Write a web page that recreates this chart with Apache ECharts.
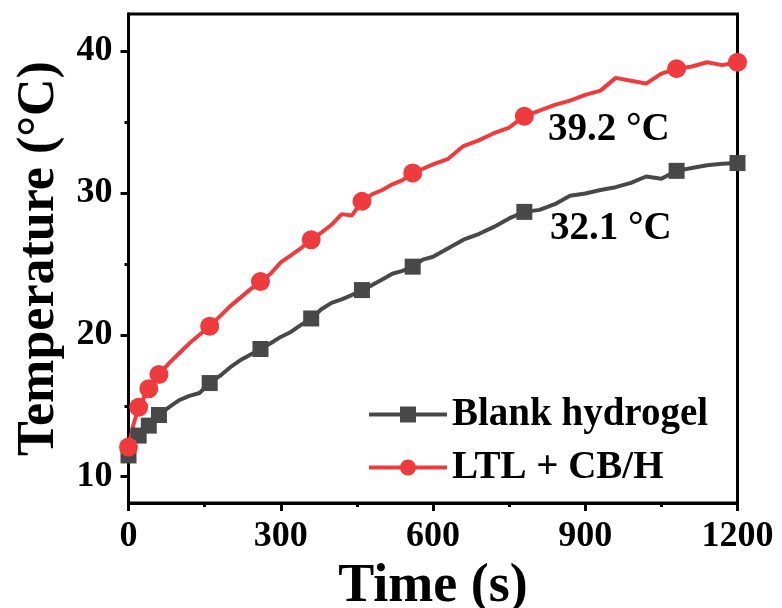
<!DOCTYPE html>
<html lang="en">

<head>
    <meta charset="UTF-8">
    <title>Temperature vs time</title>
    <script src="https://cdn.jsdelivr.net/npm/echarts@6.0.0/dist/echarts.min.js"></script>
    <style>
        body { margin: 0; background: #fff; }
    </style>
</head>

<body>
    <div id="main" style="width: 782px;height:608px;"></div>

    <script type="text/javascript">
        // time points (s)
        const times = [0, 10, 20, 40, 60, 80, 100, 120, 140, 160, 180, 200, 220, 240, 260, 280, 300, 320, 340, 360,
            380, 400, 420, 440, 460, 480, 500, 520, 540, 560, 580, 600, 630, 660, 690, 720, 750, 780, 810, 840,
            870, 900, 930, 960, 990, 1020, 1050, 1080, 1110, 1140, 1170, 1200];
        // Blank hydrogel (°C)
        const blank = [11.5, 12.3, 12.9, 13.6, 14.35, 14.9, 15.4, 15.7, 15.9, 16.6, 17.1, 17.7, 18.2, 18.6, 19.0, 19.4, 19.85, 20.2, 20.7, 21.15,
            21.8, 22.25, 22.5, 22.8, 23.15, 23.5, 23.9, 24.3, 24.5, 24.8, 25.3, 25.5, 26.1, 26.7, 27.1, 27.6, 28.2, 28.66, 28.8, 29.2,
            29.8, 29.95, 30.2, 30.4, 30.7, 31.15, 31.0, 31.55, 31.75, 31.95, 32.05, 32.1];
        // LTL + CB/H (°C)
        const ltl = [12.1, 13.7, 14.9, 16.2, 17.2, 18.0, 18.7, 19.4, 20.0, 20.6, 21.3, 22.0, 22.6, 23.2, 23.75, 24.3, 25.1, 25.6, 26.1, 26.7,
            27.2, 27.75, 28.5, 28.4, 29.4, 29.9, 30.2, 30.6, 30.9, 31.4, 31.7, 32.0, 32.4, 33.3, 33.7, 34.2, 34.6, 35.4, 35.8, 36.2,
            36.5, 36.9, 37.2, 38.1, 37.9, 37.7, 38.4, 38.75, 38.9, 39.2, 39.0, 39.2];
        // where the markers sit
        const markerTimes = [0, 20, 40, 60, 160, 260, 360, 460, 560, 780, 1080, 1200];
        const yTicks = [10, 20, 30, 40];
        const yMinorTicks = [15, 25, 35];

        const serif = '"Liberation Serif", "Times New Roman", serif';

        function buildData(ys) {
            return times.map((t, i) => {
                if (markerTimes.includes(t)) return { value: [t, ys[i]] };
                return { value: [t, ys[i]], symbol: 'none' };
            });
        }

        const myChart = echarts.init(document.getElementById('main'));

        var option = {
            animation: false,
            grid: {
                left: 128.5, right: 44.5, top: 14, bottom: 105,
                show: true, borderColor: '#000', borderWidth: 3,
                outerBoundsMode: 'none'
            },
            legend: {
                orient: 'vertical',
                left: 362, top: 390,
                itemWidth: 78, itemHeight: 20, itemGap: 14,
                lineStyle: { width: 4 },
                textStyle: { fontFamily: serif, fontWeight: 'bold', fontSize: 39, color: '#000' },
                data: ['Blank hydrogel', 'LTL + CB/H']
            },
            xAxis: {
                type: 'value',
                min: 0, max: 1200, interval: 300,
                name: 'Time (s)', nameLocation: 'middle', nameGap: 50,
                nameTextStyle: { fontFamily: serif, fontWeight: 'bold', fontSize: 54, color: '#000' },
                axisLine: { lineStyle: { color: '#000', width: 3 } },
                axisTick: { length: 8, lineStyle: { width: 3, color: '#000' } },
                minorTick: { show: true, splitNumber: 2, length: 4, lineStyle: { width: 3, color: '#000' } },
                splitLine: { show: false },
                axisLabel: {
                    fontFamily: serif, fontWeight: 'bold', fontSize: 36, color: '#000', margin: 16,
                    formatter: (v) => String(v)
                }
            },
            yAxis: [{
                type: 'value',
                min: 8.15, max: 42.6,
                name: 'Temperature (°C)', nameLocation: 'middle', nameGap: 63,
                nameTextStyle: { fontFamily: serif, fontWeight: 'bold', fontSize: 52, color: '#000' },
                axisLine: { show: true, lineStyle: { color: '#000', width: 3 } },
                axisTick: { show: true, length: 8, customValues: yTicks, lineStyle: { width: 3, color: '#000' } },
                splitLine: { show: false },
                axisLabel: { customValues: yTicks, fontFamily: serif, fontWeight: 'bold', fontSize: 36, color: '#000', margin: 16 }
            }, {
                type: 'value',
                position: 'left',
                min: 8.15, max: 42.6,
                axisLine: { show: false },
                axisTick: { show: true, length: 4, customValues: yMinorTicks, lineStyle: { width: 3, color: '#000' } },
                axisLabel: { show: false },
                splitLine: { show: false }
            }],
            graphic: [
                { type: 'text', left: 548, top: 110, style: { text: '39.2 °C', font: 'bold 39px ' + serif, fill: '#000' } },
                { type: 'text', left: 550, top: 209, style: { text: '32.1 °C', font: 'bold 39px ' + serif, fill: '#000' } }
            ],
            series: [
                {
                    name: 'Blank hydrogel',
                    type: 'line',
                    symbol: 'rect', symbolSize: 16,
                    itemStyle: { color: '#484848' },
                    lineStyle: { width: 4, color: '#484848' },
                    data: buildData(blank)
                },
                {
                    name: 'LTL + CB/H',
                    type: 'line',
                    symbol: 'circle', symbolSize: 19,
                    itemStyle: { color: '#ee3b3d' },
                    lineStyle: { width: 4, color: '#ee3b3d' },
                    data: buildData(ltl)
                }
            ]
        };

        myChart.setOption(option);
    </script>
</body>

</html>
